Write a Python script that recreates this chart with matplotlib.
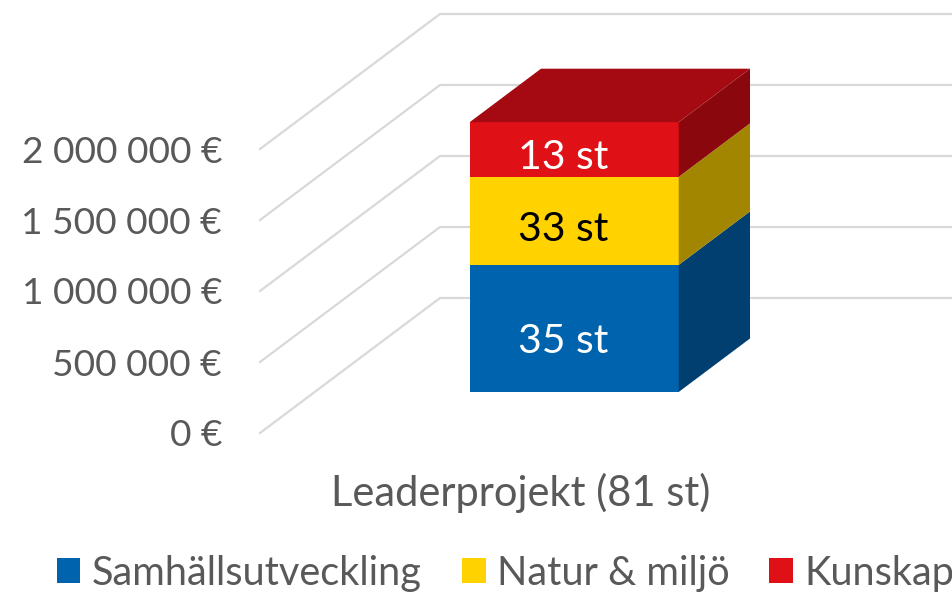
import matplotlib
matplotlib.use('Agg')
import matplotlib.pyplot as plt
from matplotlib.patches import Patch, Polygon

plt.rcParams['font.family'] = ['Lato', 'DejaVu Sans']

# data
series = ['Samhällsutveckling', 'Natur & miljö', 'Kunskap']
values = [895000, 620000, 385000]
counts = ['35 st', '33 st', '13 st']
ticks = [0, 500000, 1000000, 1500000, 2000000]
tick_labels = ['0 €', '500 000 €', '1 000 000 €', '1 500 000 €', '2 000 000 €']
category = 'Leaderprojekt (81 st)'

front = ['#0063AE', '#FFD200', '#DF1016']
side = ['#003F70', '#A28600', '#8A080D']
top = '#A50A12'
label_cols = ['white', 'black', 'white']
label_dy = [-13, -9, -8]

# scale: 71 px for 500 000 €, 0 € at pixel row 433
PER_PX = 500000 / 71
DEPTH_X = 180
DEPTH_Y = 135 * PER_PX
GRID_X0, GRID_X1 = 260, 953
BAR_X, BAR_W = 415, 209
BAR_D0, BAR_D1 = 0.304, 0.70


def proj(x, v, d):
    return (x + DEPTH_X * d, v + DEPTH_Y * d)


fig = plt.figure(figsize=(9.53, 5.93), dpi=100)
ax = fig.add_axes([0, 0, 1, 1])
ax.set_xlim(0, 953)
ax.set_ylim(-(593 - 433) * PER_PX, 433 * PER_PX)
ax.axis('off')

# grid on side wall and back wall
for t, lab in zip(ticks, tick_labels):
    a = proj(GRID_X0, t, 0)
    b = proj(GRID_X0, t, 1)
    c = (GRID_X1, b[1])
    ax.plot([a[0], b[0], c[0]], [a[1], b[1], c[1]], color='#D9D9D9', lw=1.6, zorder=1)
    ax.text(222, t - 3 * PER_PX, lab, ha='right', va='center', fontsize=26.7, color='#595959')

# stacked 3d bar
x0, x1 = BAR_X, BAR_X + BAR_W
bottom = 0
for i, val in enumerate(values):
    up = bottom + val
    ax.add_patch(Polygon([proj(x0, bottom, BAR_D0), proj(x1, bottom, BAR_D0),
                          proj(x1, up, BAR_D0), proj(x0, up, BAR_D0)],
                         fc=front[i], ec='none', zorder=3))
    ax.add_patch(Polygon([proj(x1, bottom, BAR_D0), proj(x1, bottom, BAR_D1),
                          proj(x1, up, BAR_D1), proj(x1, up, BAR_D0)],
                         fc=side[i], ec='none', zorder=3))
    cx, cy = proj((x0 + x1) / 2, bottom + val / 2, BAR_D0)
    ax.text(cx - 11, cy + label_dy[i] * PER_PX, counts[i], ha='center', va='center', fontsize=29.5,
            color=label_cols[i], zorder=4)
    bottom = up
ax.add_patch(Polygon([proj(x0, bottom, BAR_D0), proj(x1, bottom, BAR_D0),
                      proj(x1, bottom, BAR_D1), proj(x0, bottom, BAR_D1)],
                     fc=top, ec='none', zorder=3))

ax.text(521, (433 - 493) * PER_PX, category, ha='center', va='center', fontsize=30, color='#595959')

handles = [Patch(fc=c, ec='none') for c in front]
ax.legend(handles, series, ncol=3, loc='center', bbox_to_anchor=(505.5 / 953, 1 - 573 / 593),
          frameon=False, fontsize=28.6, labelcolor='#595959', handlelength=0.6, handleheight=0.6,
          handletextpad=0.28, columnspacing=1.01, borderpad=0, borderaxespad=0)

fig.savefig('out.png', dpi=100)
